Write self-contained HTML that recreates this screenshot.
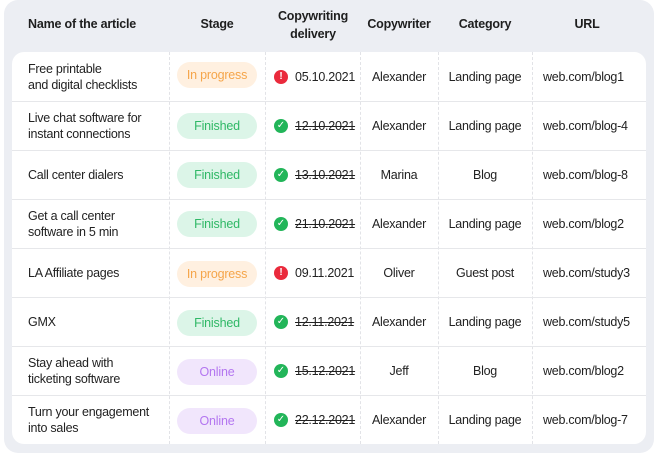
<!DOCTYPE html>
<html><head><style>
*{margin:0;padding:0;box-sizing:border-box}
body{width:658px;height:462px;background:#fff;font-family:"Liberation Sans","DejaVu Sans",sans-serif;position:relative;overflow:hidden;color:#222}
.outer{position:absolute;left:4px;top:0;width:650px;height:453px;background:#eceef3;border-radius:14px}
.card{position:absolute;left:12px;top:52px;width:634px;height:392px;background:#fff;border-radius:12px}
.h{position:absolute;font-weight:bold;font-size:12.5px;letter-spacing:-0.2px;color:#1e1e1e;text-align:center;line-height:18px}
.vl{position:absolute;top:52px;height:392px;border-left:1px dashed #e2e3e7}
.hl{position:absolute;left:12px;width:634px;border-top:1px solid #e6e7ea}
.c{position:absolute;font-size:12.5px;letter-spacing:-0.25px;line-height:16px;color:#222;display:flex;align-items:center;height:49px;white-space:nowrap}
.cc{justify-content:center}
.pill{position:absolute;left:177px;width:80px;height:26px;border-radius:13px;font-size:12.5px;letter-spacing:-0.2px;text-align:center;line-height:26px}
.p1{background:#fff0e0;color:#f5a54a}
.p2{background:#dcf5e8;color:#2fb866}
.p3{background:#f1e6fc;color:#b376f0}
.ic{display:inline-block;width:14px;height:14px;border-radius:50%;color:#fff;font-size:10px;line-height:14px;text-align:center;font-weight:bold;margin-right:7px;letter-spacing:0}
.r{background:#ea2a3c}.g{background:#22b559}
s{text-decoration:line-through}
</style></head><body>
<div class="outer"></div>
<div class="card"></div>
<div class="h" style="left:28px;top:15px;text-align:left">Name of the article</div>
<div class="h" style="left:169px;width:96px;top:15px">Stage</div>
<div class="h" style="left:265px;width:96px;top:7px">Copywriting<br>delivery</div>
<div class="h" style="left:360px;width:78px;top:15px">Copywriter</div>
<div class="h" style="left:438px;width:94px;top:15px">Category</div>
<div class="h" style="left:532px;width:110px;top:15px">URL</div>
<div class="vl" style="left:169px"></div><div class="vl" style="left:265px"></div><div class="vl" style="left:360px"></div><div class="vl" style="left:438px"></div><div class="vl" style="left:532px"></div>
<div class="hl" style="top:101px"></div><div class="hl" style="top:150px"></div><div class="hl" style="top:199px"></div><div class="hl" style="top:248px"></div><div class="hl" style="top:297px"></div><div class="hl" style="top:346px"></div><div class="hl" style="top:395px"></div>

<div class="c" style="left:28px;top:52px">Free printable<br>and digital checklists</div>
<div class="pill p1" style="top:62px">In progress</div>
<div class="c" style="left:274px;top:52px"><span class="ic r">!</span>05.10.2021</div>
<div class="c cc" style="left:360px;width:78px;top:52px">Alexander</div>
<div class="c cc" style="left:438px;width:94px;top:52px">Landing page</div>
<div class="c" style="left:543px;top:52px">web.com/blog1</div>

<div class="c" style="left:28px;top:101px">Live chat software for<br>instant connections</div>
<div class="pill p2" style="top:113px">Finished</div>
<div class="c" style="left:274px;top:101px"><span class="ic g">✓</span><s>12.10.2021</s></div>
<div class="c cc" style="left:360px;width:78px;top:101px">Alexander</div>
<div class="c cc" style="left:438px;width:94px;top:101px">Landing page</div>
<div class="c" style="left:543px;top:101px">web.com/blog-4</div>

<div class="c" style="left:28px;top:150px">Call center dialers</div>
<div class="pill p2" style="top:162px">Finished</div>
<div class="c" style="left:274px;top:150px"><span class="ic g">✓</span><s>13.10.2021</s></div>
<div class="c cc" style="left:360px;width:78px;top:150px">Marina</div>
<div class="c cc" style="left:438px;width:94px;top:150px">Blog</div>
<div class="c" style="left:543px;top:150px">web.com/blog-8</div>

<div class="c" style="left:28px;top:199px">Get a call center<br>software in 5 min</div>
<div class="pill p2" style="top:211px">Finished</div>
<div class="c" style="left:274px;top:199px"><span class="ic g">✓</span><s>21.10.2021</s></div>
<div class="c cc" style="left:360px;width:78px;top:199px">Alexander</div>
<div class="c cc" style="left:438px;width:94px;top:199px">Landing page</div>
<div class="c" style="left:543px;top:199px">web.com/blog2</div>

<div class="c" style="left:28px;top:248px">LA Affiliate pages</div>
<div class="pill p1" style="top:261px">In progress</div>
<div class="c" style="left:274px;top:248px"><span class="ic r">!</span>09.11.2021</div>
<div class="c cc" style="left:360px;width:78px;top:248px">Oliver</div>
<div class="c cc" style="left:438px;width:94px;top:248px">Guest post</div>
<div class="c" style="left:543px;top:248px">web.com/study3</div>

<div class="c" style="left:28px;top:297px">GMX</div>
<div class="pill p2" style="top:310px">Finished</div>
<div class="c" style="left:274px;top:297px"><span class="ic g">✓</span><s>12.11.2021</s></div>
<div class="c cc" style="left:360px;width:78px;top:297px">Alexander</div>
<div class="c cc" style="left:438px;width:94px;top:297px">Landing page</div>
<div class="c" style="left:543px;top:297px">web.com/study5</div>

<div class="c" style="left:28px;top:346px">Stay ahead with<br>ticketing software</div>
<div class="pill p3" style="top:359px">Online</div>
<div class="c" style="left:274px;top:346px"><span class="ic g">✓</span><s>15.12.2021</s></div>
<div class="c cc" style="left:360px;width:78px;top:346px">Jeff</div>
<div class="c cc" style="left:438px;width:94px;top:346px">Blog</div>
<div class="c" style="left:543px;top:346px">web.com/blog2</div>

<div class="c" style="left:28px;top:395px">Turn your engagement<br>into sales</div>
<div class="pill p3" style="top:408px">Online</div>
<div class="c" style="left:274px;top:395px"><span class="ic g">✓</span><s>22.12.2021</s></div>
<div class="c cc" style="left:360px;width:78px;top:395px">Alexander</div>
<div class="c cc" style="left:438px;width:94px;top:395px">Landing page</div>
<div class="c" style="left:543px;top:395px">web.com/blog-7</div>
</body></html>
